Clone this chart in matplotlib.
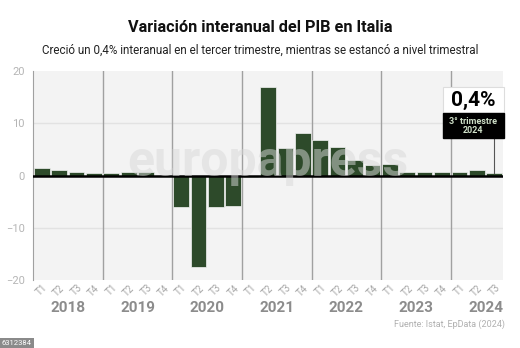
import matplotlib.pyplot as plt
from matplotlib.patches import Rectangle
import numpy as np

plt.rcParams['font.family'] = ['Roboto', 'DejaVu Sans']

years = ['2018', '2019', '2020', '2021', '2022', '2023', '2024']
quarters = ['T1', 'T2', 'T3', 'T4'] * 6 + ['T1', 'T2', 'T3']
valores = [1.4, 1.0, 0.6, 0.4,
           0.5, 0.6, 0.6, -0.1,
           -6.1, -17.6, -6.0, -5.9,
           -0.3, 17.0, 5.3, 8.1,
           6.7, 5.4, 2.9, 2.0,
           2.2, 0.7, 0.6, 0.6,
           0.6, 1.0, 0.4]

verde = '#2d4a2a'
gris = '#8c8c8c'

fig = plt.figure(figsize=(5.2, 3.48), dpi=100)
fig.patch.set_facecolor('white')
ax = fig.add_axes([33/520, 1-280/348, 470/520, 209/348])
ax.set_facecolor('#f3f3f3')

x = np.arange(len(valores))
ax.bar(x, valores, width=0.9, color=verde, edgecolor='#f3f3f3', linewidth=0.5, zorder=3)

ax.set_xlim(-0.5, len(valores) - 0.5)
ax.set_ylim(-20, 20)
ax.set_yticks([-20, -10, 0, 10, 20])
ax.set_yticklabels(['\u221220', '\u221210', '0', '10', '20'])
ax.tick_params(axis='y', length=0, labelsize=8, labelcolor='#b5b5b5', pad=6)
for yy in [-10, 10]:
    ax.axhline(yy, color='#e2e2e2', lw=1, zorder=1)
ax.axhline(0, color='black', lw=1.8, zorder=4)

# separadores de año
for i in range(1, len(years)):
    ax.axvline(4 * i - 0.5, color='#a0a0a0', lw=1, zorder=2)

for s in ['top', 'right', 'bottom']:
    ax.spines[s].set_visible(False)
ax.spines['left'].set_color('#a0a0a0')

ax.set_xticks(x)
ax.set_xticklabels(quarters, rotation=45, fontsize=7, color='#a5a5a5')
ax.tick_params(axis='x', length=0, pad=2)

for i, yr in enumerate(years):
    ax.text(4 * i + 1.5, -0.135, yr, transform=ax.get_xaxis_transform(),
            ha='center', va='center', fontsize=11, fontweight='bold', color=gris)

# marca de agua
ax.text(0.5, 0.56, 'europapress', transform=ax.transAxes, ha='center', va='center',
        fontsize=36, fontweight='bold', color='#d8d8d8', alpha=0.5, zorder=5)

# anotación último dato
ax.plot([x[-1], x[-1]], [valores[-1], 7.2], color='#555555', lw=0.8, zorder=5)
ax.add_patch(Rectangle((0.872, 0.799), 0.13, 0.124, transform=ax.transAxes,
                       facecolor='white', edgecolor='#dddddd', lw=0.8, clip_on=False, zorder=6))
ax.add_patch(Rectangle((0.872, 0.679), 0.13, 0.12, transform=ax.transAxes,
                       facecolor='black', edgecolor='black', clip_on=False, zorder=6))
ax.text(0.937, 0.861, '0,4%', transform=ax.transAxes, ha='center', va='center',
        fontsize=15, fontweight='bold', color='black', zorder=7)
ax.text(0.937, 0.739, '3° trimestre\n2024', transform=ax.transAxes, ha='center', va='center',
        fontsize=6.5, fontweight='bold', color='#cfe0c8', linespacing=1.0, zorder=7)

fig.text(0.5, 1-27/348, 'Variación interanual del PIB en Italia', ha='center', va='center',
         fontsize=11.7, fontweight='bold', color='#111111')
fig.text(0.5, 1-50/348, 'Creció un 0,4% interanual en el tercer trimestre, mientras se estancó a nivel trimestral',
         ha='center', va='center', fontsize=8.4, color='#222222')
fig.text(505/520, 1-324/348, 'Fuente: Istat, EpData (2024)', ha='right', va='center',
         fontsize=6.5, color='#b0b0b0')
fig.text(2/520, 1-343/348, '6312384', ha='left', va='center', fontsize=5.5, color='white',
         bbox=dict(boxstyle='square,pad=0.25', facecolor='#8a8a8a', edgecolor='none'))

fig.savefig('out.png', dpi=100)
